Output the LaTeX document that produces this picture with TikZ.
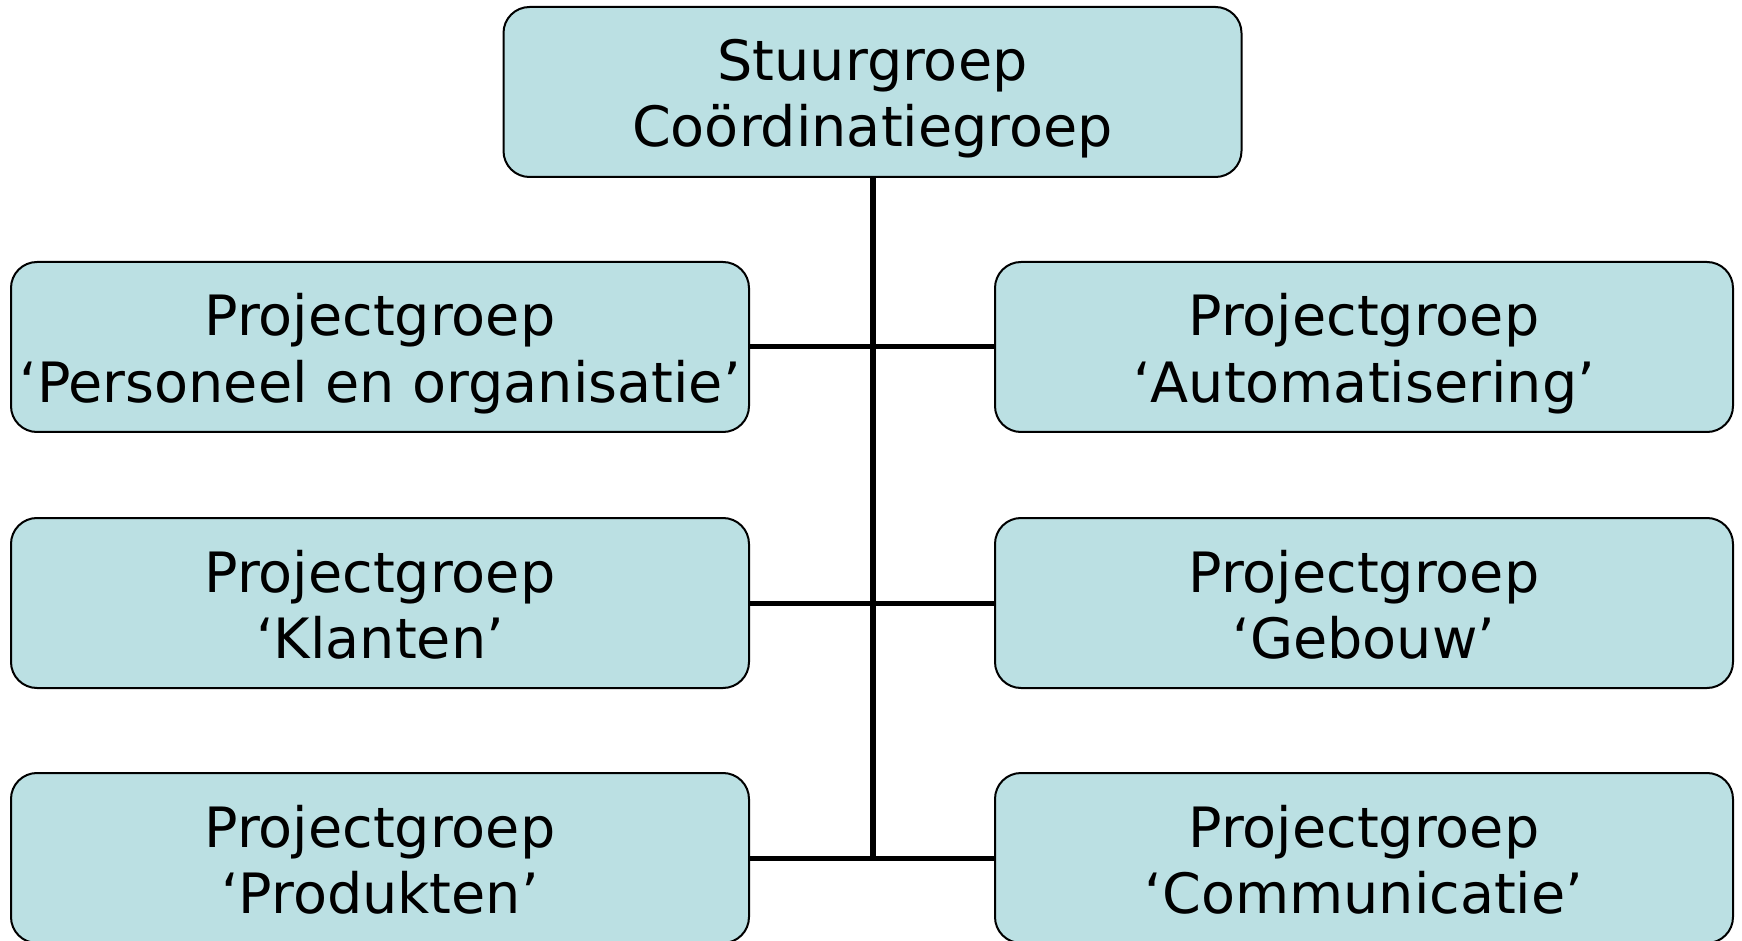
\documentclass[tikz,border=0pt]{standalone}
\usepackage{fontspec}
\setmainfont{DejaVu Sans}
\definecolor{boxfill}{RGB}{187,224,227}
\newcommand{\twolines}[2]{\rule{0pt}{30pt}#1\\#2\rule[-8pt]{0pt}{8pt}}
\begin{document}
\begin{tikzpicture}[x=0.5pt,y=-0.5pt,
  grp/.style={draw=black, line width=1pt, fill=boxfill, rounded corners=13pt,
    minimum width=369pt, minimum height=85pt, inner sep=0pt, align=center,
    font=\fontsize{27.8}{33}\selectfont},
  trunk/.style={line width=3pt},
  branch/.style={line width=2.5pt}]
\useasboundingbox (0,0) rectangle (1742,941);
\node[grp] (top) at (872.5,92) {\twolines{Stuurgroep}{Coördinatiegroep}};
\node[grp] (l1) at (380,347) {\twolines{Projectgroep}{‘Personeel en organisatie’}};
\node[grp] (l2) at (380,603) {\twolines{Projectgroep}{‘Klanten’}};
\node[grp] (l3) at (380,858) {\twolines{Projectgroep}{‘Produkten’}};
\node[grp] (r1) at (1364,347) {\twolines{Projectgroep}{‘Automatisering’}};
\node[grp] (r2) at (1364,603) {\twolines{Projectgroep}{‘Gebouw’}};
\node[grp] (r3) at (1364,858) {\twolines{Projectgroep}{‘Communicatie’}};
\coordinate (trunkend) at (872.5,858);
\draw[trunk] (top.south) -- (trunkend);
\draw[branch] (l1.east) -- (r1.west);
\draw[branch] (l2.east) -- (r2.west);
\draw[branch] (l3.east) -- (r3.west);
\end{tikzpicture}
\end{document}
